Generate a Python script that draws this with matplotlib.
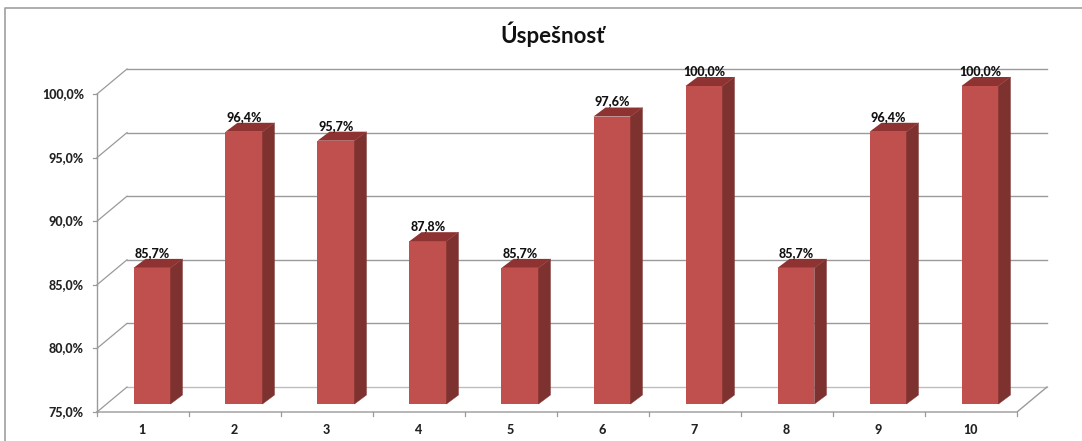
import matplotlib
matplotlib.use('Agg')
import matplotlib.pyplot as plt

kategorie = ['1', '2', '3', '4', '5', '6', '7', '8', '9', '10']
uspesnost = [85.7, 96.4, 95.7, 87.8, 85.7, 97.6, 100.0, 85.7, 96.4, 100.0]
popisky = ['85,7%', '96,4%', '95,7%', '87,8%', '85,7%', '97,6%', '100,0%', '85,7%', '96,4%', '100,0%']
y_ticks = [75, 80, 85, 90, 95, 100]
y_labels = ['75,0%', '80,0%', '85,0%', '90,0%', '95,0%', '100,0%']

plt.rcParams['font.family'] = ['Lato', 'DejaVu Sans']

W, H = 1082, 441
fig = plt.figure(figsize=(W / 100, H / 100), dpi=100)
# osy = predni hrana grafu v pixelech
L, R, B, T = 97, 1017, 412, 94
ax = fig.add_axes([L / W, 1 - B / H, (R - L) / W, (B - T) / H])
ax.set_xlim(0.5, 10.5)
ax.set_ylim(75, 100)
ax.axis('off')

px = 10 / (R - L)
py = 25 / (B - T)
wall_x, wall_y = 30 * px, 25 * py
grid = '#9a9a9a'

# ramecek
fig.add_artist(plt.Line2D([5 / W, 5 / W, 1], [0, 1 - 8 / H, 1 - 8 / H], color='#a0a0a0', lw=1.2))

# mrizka, zadni stena a podlaha
for t, lab in zip(y_ticks, y_labels):
    c = '#bdbdbd' if t == 75 else grid
    ax.plot([0.5 + wall_x, 10.5 + wall_x], [t + wall_y, t + wall_y], color=c, lw=1, clip_on=False, zorder=1)
    ax.plot([0.5, 0.5 + wall_x], [t, t + wall_y], color=grid, lw=0.9, clip_on=False, zorder=1)
    ax.plot([0.5 - 4 * px, 0.5], [t, t], color=grid, lw=0.9, clip_on=False, zorder=1)
    ax.text(0.5 - 13 * px, t, lab, ha='right', va='center',
            fontsize=9, fontweight='black', color='#222222', clip_on=False)
ax.plot([0.5, 0.5], [75, 100], color=grid, lw=1, clip_on=False, zorder=1)
ax.plot([0.5, 10.5, 10.5 + wall_x], [75, 75, 75 + wall_y], color=grid, lw=1, clip_on=False, zorder=1)
for i in range(len(kategorie) + 1):
    ax.plot([0.5 + i, 0.5 + i], [75, 75 - 4 * py], color=grid, lw=0.9, clip_on=False, zorder=1)

# sloupce
bw = 37 * px
sx, sy = 12 * px, 9 * py
y0 = 75 + 8 * py
for i, (v, lab) in enumerate(zip(uspesnost, popisky)):
    x0 = i + 1 + 9 * px - bw / 2
    x1 = x0 + bw
    top = v + 8 * py
    ax.fill([x0, x1, x1, x0], [y0, y0, top, top], color='#c0504d', lw=0, zorder=3, clip_on=False)
    ax.fill([x1, x1 + sx, x1 + sx, x1], [y0, y0 + sy, top + sy, top], color='#7d3230', lw=0.3, zorder=3, clip_on=False)
    ax.fill([x0, x1, x1 + sx, x0 + sx], [top, top, top + sy, top + sy], color='#8e3331', lw=0, zorder=3, clip_on=False)
    ax.text(x0 + bw / 2, top + 9 * py, lab, ha='center', va='bottom', fontsize=9,
            fontweight='black', color='#111111', zorder=4, clip_on=False)
    ax.text(i + 1 - 1 * px, 75 - 18 * py, kategorie[i], ha='center', va='center', fontsize=9,
            fontweight='black', color='#222222', clip_on=False)

fig.text(553 / W, 1 - 34 / H, 'Úspešnosť', ha='center', va='center', fontsize=16, fontweight='bold', color='#111111')

fig.savefig('out.png', dpi=100)
